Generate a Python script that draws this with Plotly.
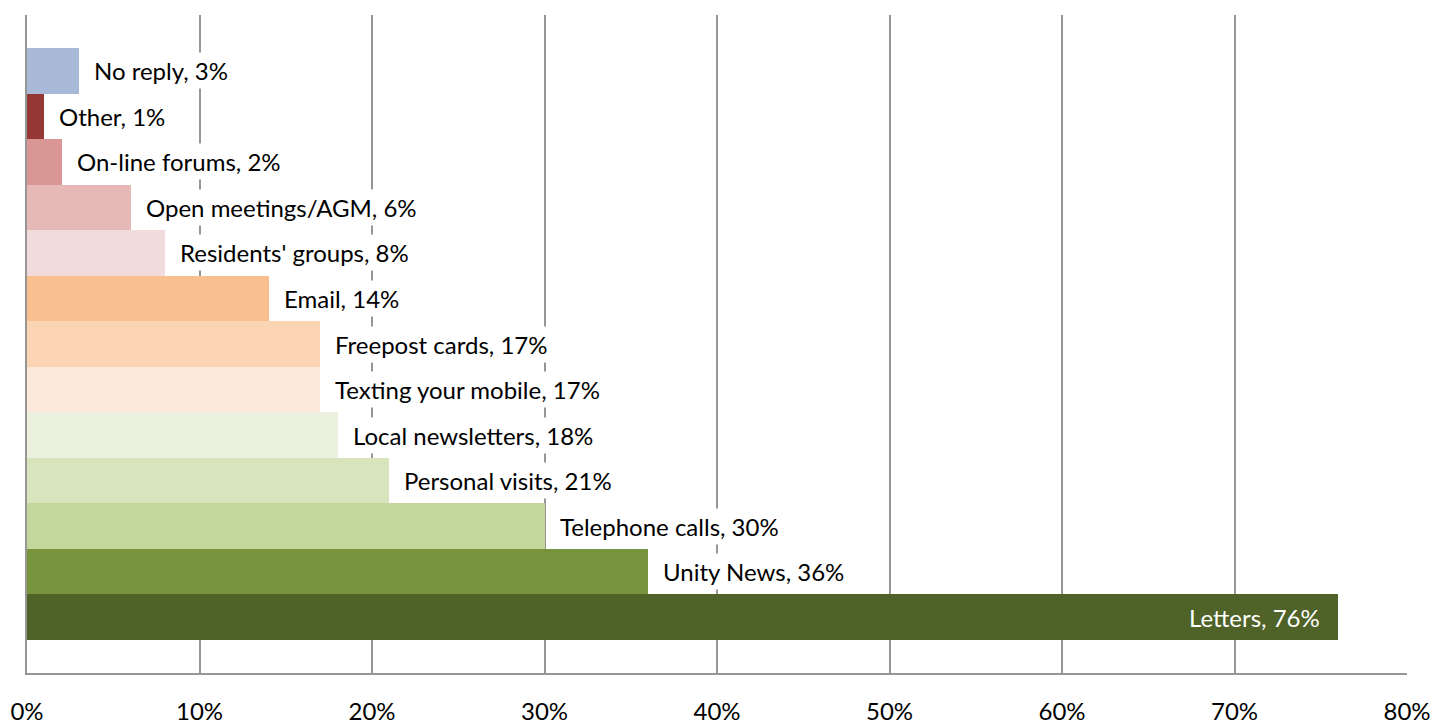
import plotly.graph_objects as go

# Channels, bottom to top as drawn
channels = [
    "Letters", "Unity News", "Telephone calls", "Personal visits",
    "Local newsletters", "Texting your mobile", "Freepost cards", "Email",
    "Residents' groups", "Open meetings/AGM", "On-line forums", "Other", "No reply",
]
shares = [76, 36, 30, 21, 18, 17, 17, 14, 8, 6, 2, 1, 3]
colors = [
    "#4F6228", "#77933C", "#C3D69B", "#D7E4BC",
    "#EBF1DE", "#FDE9D9", "#FBD4B4", "#F9BF8F",
    "#F2DCDB", "#E6B9B8", "#D99694", "#953735", "#A9B9D8",
]
x_ticks = [0, 10, 20, 30, 40, 50, 60, 70, 80]

FONT = "Lato"
SIZE = 24

fig = go.Figure(
    go.Bar(
        x=shares,
        y=list(range(len(channels))),
        orientation="h",
        marker=dict(color=colors, line=dict(width=0)),
        hoverinfo="skip",
    )
)

# Value labels with a white box, placed just past each bar (inside for the longest)
for i, (name, v) in enumerate(zip(channels, shares)):
    inside = v == max(shares)
    fig.add_annotation(
        x=v, y=i, xref="x", yref="y",
        text=f"{name}, {v}%",
        showarrow=False,
        xanchor="right" if inside else "left",
        xshift=-14 if inside else 11,
        font=dict(family=FONT, size=SIZE, color="white" if inside else "black"),
        bgcolor="rgba(0,0,0,0)" if inside else "white",
        borderpad=3,
    )

fig.update_layout(
    width=1434, height=725,
    margin=dict(l=27, r=27, t=15, b=52),
    paper_bgcolor="white", plot_bgcolor="white",
    bargap=0,
    showlegend=False,
    font=dict(family=FONT, size=SIZE, color="black"),
)
fig.update_xaxes(
    range=[0, 80],
    tickvals=x_ticks,
    ticktext=[f"{t}%" for t in x_ticks],
    showgrid=True, gridcolor="#969696", gridwidth=2,
    showline=True, linecolor="#969696", linewidth=2,
    zeroline=False, automargin=False,
    ticks="", ticklabelstandoff=16,
    tickfont=dict(family=FONT, size=SIZE, color="black"),
)
fig.update_yaxes(
    range=[-1.23, len(channels) - 1 + 1.23],
    showticklabels=False, showgrid=False, zeroline=False, automargin=False,
    showline=True, linecolor="#969696", linewidth=2,
)

fig.write_html("out.html")
